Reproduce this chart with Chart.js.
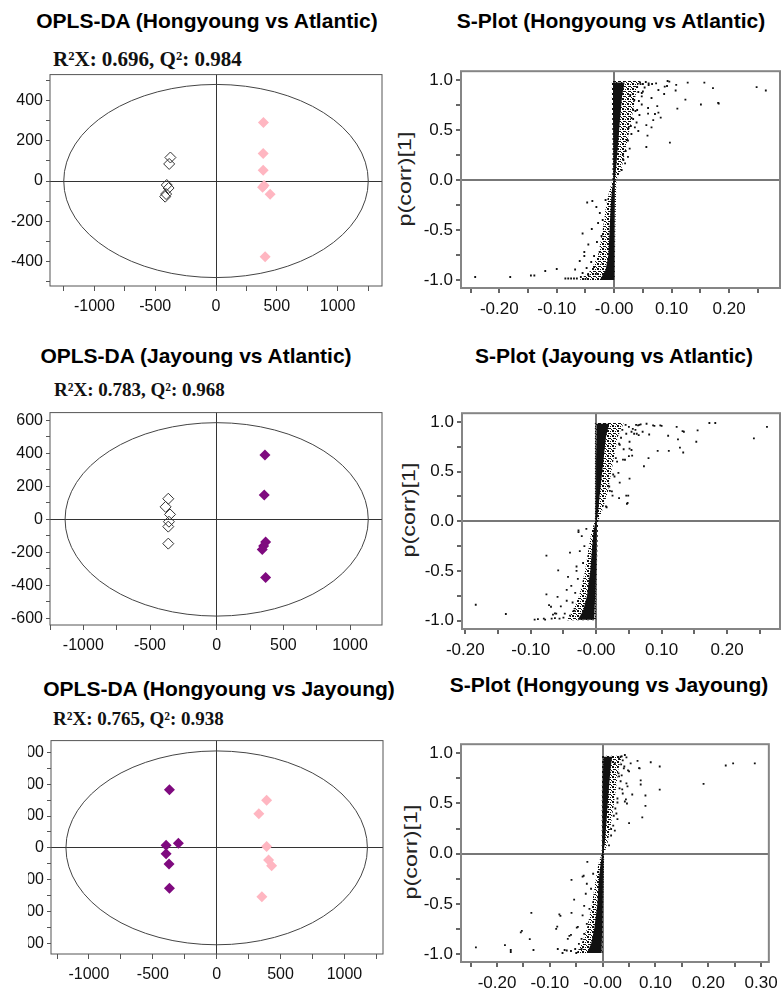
<!DOCTYPE html>
<html lang="en">
<head>
<meta charset="UTF-8">
<title>OPLS-DA / S-Plot</title>
<script src="https://cdn.jsdelivr.net/npm/chart.js@4.4.1/dist/chart.umd.min.js"></script>
<style>
    body { margin: 0; width: 784px; height: 992px; position: relative; overflow: hidden; background: #fff; }
    canvas { position: absolute; }
    .t { position: absolute; width: 420px; height: 24px; line-height: 24px; text-align: center; white-space: nowrap;
         font: bold 21px "Liberation Sans", Arial, sans-serif; color: #000; }
    .s { position: absolute; height: 22px; line-height: 22px; white-space: nowrap;
         font: bold 19px "Liberation Serif", "Times New Roman", serif; color: #111; }
    .yl { position: absolute; white-space: nowrap; font: 18px "Liberation Sans", Arial, sans-serif; color: #222;
          transform: translate(-50%, -50%) rotate(-90deg) scaleX(1.3); }
</style>
</head>
<body>
<div class="t" style="left:-3px;top:9px">OPLS-DA (Hongyoung vs Atlantic)</div>
<div class="t" style="left:401px;top:9px">S-Plot (Hongyoung vs Atlantic)</div>
<div class="t" style="left:-14px;top:344px">OPLS-DA (Jayoung vs Atlantic)</div>
<div class="t" style="left:404px;top:344px">S-Plot (Jayoung vs Atlantic)</div>
<div class="t" style="left:9px;top:677px">OPLS-DA (Hongyoung vs Jayoung)</div>
<div class="t" style="left:399px;top:673px">S-Plot (Hongyoung vs Jayoung)</div>
<div class="s" style="left:53px;top:47px;font-size:21px">R²X: 0.696, Q²: 0.984</div>
<div class="s" style="left:54px;top:379px">R²X: 0.783, Q²: 0.968</div>
<div class="s" style="left:53px;top:708px">R²X: 0.765, Q²: 0.938</div>
<div class="yl" style="left:405px;top:179px">p(corr)[1]</div>
<div class="yl" style="left:409px;top:510px">p(corr)[1]</div>
<div class="yl" style="left:411px;top:852px">p(corr)[1]</div>

<canvas id="c1" width="392" height="258" style="left:0;top:62px"></canvas>
<canvas id="c2" width="392" height="262" style="left:392px;top:58px"></canvas>
<canvas id="c3" width="392" height="262" style="left:0;top:400px"></canvas>
<canvas id="c4" width="392" height="262" style="left:392px;top:400px"></canvas>
<canvas id="c5" width="364" height="264" style="left:28px;top:728px"></canvas>
<canvas id="c6" width="392" height="261" style="left:392px;top:731px"></canvas>

<script>
    // OPLS-DA score plots: [t1, to1]
    const opls1Atlantic = [[-375, 117], [-385, 85], [-405, -20], [-390, -35], [-410, -65], [-418, -78]];
    const opls1Hongyoung = [[390, 291], [388, 137], [388, 54], [383, -31], [395, -22], [445, -66], [404, -377]];
    const opls2Atlantic = [[-363, 125], [-383, 76], [-350, 30], [-358, -14], [-363, -44], [-363, -147]];
    const opls2Jayoung = [[362, 390], [357, 147], [367, -137], [352, -162], [342, -183], [367, -352]];
    const opls3Jayoung = [[-370, 365], [-396, 17], [-300, 29], [-396, -37], [-373, -101], [-370, -254]];
    const opls3Hongyoung = [[391, 300], [330, 215], [391, 9], [406, -76], [430, -113], [354, -307]];

    // Hotelling ellipse half axes
    const ellipse1 = [1252, 481];
    const ellipse2 = [1137, 586];
    const ellipse3 = [1180, 610];

    // S-plots: outline of the dense cloud (halo), its solid core, and the scattered variables [p[1], p(corr)[1]]
    const splot1Halo = [[-0.060, -1.00], [-0.040, -0.90], [-0.028, -0.75], [-0.020, -0.50], [-0.014, -0.25], [-0.008, -0.10],
        [-0.003, 0.00], [-0.003, 0.40], [-0.004, 0.80], [-0.004, 0.99], [0.045, 0.99], [0.040, 0.93], [0.036, 0.80],
        [0.030, 0.60], [0.020, 0.30], [0.012, 0.10], [0.004, 0.00], [0.002, -0.50], [0.001, -1.00]];
    const splot1Core = [[-0.025, -1.00], [-0.015, -0.90], [-0.010, -0.75], [-0.008, -0.50], [-0.006, -0.25], [-0.004, -0.10],
        [-0.001, 0.00], [-0.001, 0.30], [-0.002, 0.60], [-0.002, 0.85], [-0.002, 0.975], [0.018, 0.975], [0.014, 0.85],
        [0.010, 0.60], [0.006, 0.30], [0.003, 0.10], [0.001, 0.00], [0.000, -0.50], [0.000, -1.00]];
    const splot1Points = [
        [-0.242, -0.97], [-0.181, -0.97], [-0.145, -0.955], [-0.139, -0.955], [-0.120, -0.91], [-0.100, -0.89],
        [-0.085, -0.985], [-0.080, -0.985], [-0.075, -0.985], [-0.070, -0.985], [-0.065, -0.985], [-0.068, -0.895],
        [-0.060, -0.81], [-0.052, -0.76], [-0.055, -0.535], [-0.045, -0.645], [-0.047, -0.225], [-0.038, -0.21],
        [-0.031, -0.27], [-0.039, -0.49], [-0.052, -0.72], [-0.035, -0.76], [-0.025, -0.33], [-0.028, -0.43],
        [-0.022, -0.56], [-0.030, -0.62], [-0.040, -0.82], [-0.048, -0.88], [-0.055, -0.93], [-0.045, -0.95],
        [-0.035, -0.87], [-0.025, -0.72], [-0.020, -0.40], [-0.015, -0.20], [-0.058, -0.97], [-0.050, -0.99],
        [-0.032, -0.94], [-0.020, -0.84],
        [0.248, 0.928], [0.264, 0.895], [0.157, 0.974], [0.172, 0.918], [0.128, 0.974], [0.181, 0.771], [0.182, 0.765],
        [0.151, 0.755], [0.124, 0.804], [0.110, 0.713], [0.107, 0.895], [0.097, 0.373], [0.056, 0.33], [0.096, 0.983],
        [0.088, 0.934], [0.092, 0.94], [0.087, 0.86], [0.081, 0.624], [0.077, 0.673], [0.075, 0.738], [0.068, 0.598],
        [0.059, 0.664], [0.059, 0.72], [0.056, 0.549], [0.065, 0.82], [0.060, 0.967], [0.073, 0.967], [0.066, 0.96],
        [0.050, 0.885], [0.048, 0.836], [0.048, 0.755], [0.039, 0.575], [0.036, 0.526], [0.030, 0.46], [0.027, 0.314],
        [0.024, 0.232], [0.019, 0.167], [0.013, 0.10], [0.044, 0.65], [0.040, 0.70], [0.045, 0.975], [0.050, 0.96],
        [0.055, 0.98], [0.040, 0.93], [0.035, 0.80], [0.030, 0.62], [0.025, 0.52], [0.022, 0.40], [0.042, 0.88],
        [0.033, 0.70], [0.028, 0.85], [0.015, 0.25], [0.048, 0.87], [0.071, 0.66], [0.108, 0.951], [0.093, 0.99],
        [0.077, 0.90], [0.060, 0.95], [0.053, 0.925], [0.046, 0.958], [0.043, 0.79], [0.037, 0.69], [0.033, 0.61],
        [0.029, 0.54], [0.024, 0.395], [0.020, 0.29], [0.016, 0.20], [0.065, 0.526], [0.058, 0.444], [0.042, 0.49]];

    const splot2Halo = [[-0.045, -0.995], [-0.036, -0.90], [-0.026, -0.75], [-0.017, -0.50], [-0.011, -0.25], [-0.007, -0.10],
        [-0.002, 0.00], [-0.002, 0.40], [-0.002, 0.99], [0.042, 0.99], [0.038, 0.92], [0.033, 0.85], [0.026, 0.60],
        [0.018, 0.30], [0.009, 0.10], [0.003, 0.00], [0.001, -0.50], [0.000, -0.995]];
    const splot2Core = [[-0.028, -0.99], [-0.020, -0.90], [-0.014, -0.75], [-0.009, -0.50], [-0.006, -0.25], [-0.004, -0.10],
        [-0.001, 0.00], [0.000, 0.30], [0.000, 0.60], [0.001, 0.85], [0.001, 0.98], [0.020, 0.98], [0.015, 0.85],
        [0.011, 0.60], [0.006, 0.30], [0.003, 0.10], [0.001, 0.00], [0.000, -0.50], [-0.003, -0.99]];
    const splot2Points = [
        [0.261, 0.949], [0.241, 0.833], [0.173, 0.988], [0.182, 0.988], [0.155, 0.915], [0.153, 0.80], [0.132, 0.907],
        [0.134, 0.90], [0.123, 0.949], [0.125, 0.823], [0.128, 0.741], [0.133, 0.692], [0.111, 0.708], [0.110, 0.86],
        [0.098, 0.965], [0.100, 0.96], [0.094, 0.708], [0.080, 0.635], [0.073, 0.553], [0.081, 0.873], [0.087, 0.965],
        [0.089, 0.96], [0.077, 0.981], [0.065, 0.866], [0.066, 0.97], [0.061, 0.97], [0.068, 0.975], [0.051, 0.428],
        [0.048, 0.184], [0.046, 0.257], [0.035, 0.233], [0.025, 0.257], [0.050, 0.655], [0.055, 0.66], [0.042, 0.724],
        [0.051, 0.73], [0.041, 0.62], [0.058, 0.88], [0.054, 0.90], [0.060, 0.92], [0.054, 0.717], [0.044, 0.619],
        [0.034, 0.487], [0.036, 0.388], [0.024, 0.30], [0.049, 0.257], [0.047, 0.174], [0.062, 0.88], [0.045, 0.97],
        [0.050, 0.95], [0.038, 0.84], [0.032, 0.60], [0.028, 0.45], [0.020, 0.35], [0.015, 0.15], [0.040, 0.92],
        [0.035, 0.78], [0.064, 0.965], [0.056, 0.93], [0.046, 0.88], [0.036, 0.77], [0.030, 0.635], [0.026, 0.47],
        [0.021, 0.306], [0.016, 0.141], [0.051, 0.80], [0.071, 0.90],
        [-0.184, -0.84], [-0.138, -0.933], [-0.076, -0.346], [-0.076, -0.735], [-0.058, -0.494], [-0.040, -0.316],
        [-0.027, -0.093], [-0.027, -0.11], [-0.015, -0.076], [-0.059, -0.761], [-0.072, -0.844], [-0.069, -0.86],
        [-0.054, -0.857], [-0.063, -0.926], [-0.066, -0.94], [-0.061, -0.93], [-0.094, -0.99], [-0.089, -0.985],
        [-0.080, -0.98], [-0.078, -0.99], [-0.068, -0.98], [-0.063, -0.975], [-0.056, -0.98], [-0.045, -0.69],
        [-0.043, -0.56], [-0.036, -0.817], [-0.030, -0.455], [-0.030, -0.50], [-0.025, -0.30], [-0.022, -0.15],
        [-0.033, -0.90], [-0.048, -0.93], [-0.050, -0.97], [-0.038, -0.65], [-0.032, -0.72], [-0.028, -0.58],
        [-0.020, -0.42], [-0.018, -0.25], [-0.040, -0.95], [-0.045, -0.80]];

    const splot3Halo = [[-0.050, -0.995], [-0.040, -0.90], [-0.030, -0.75], [-0.020, -0.50], [-0.013, -0.25], [-0.008, -0.10],
        [-0.002, 0.00], [-0.002, 0.40], [-0.001, 0.975], [0.036, 0.975], [0.033, 0.90], [0.030, 0.85], [0.024, 0.60],
        [0.016, 0.30], [0.009, 0.10], [0.003, 0.00], [0.001, -0.50], [0.000, -0.995]];
    const splot3Core = [[-0.030, -0.99], [-0.022, -0.90], [-0.016, -0.75], [-0.010, -0.50], [-0.007, -0.25], [-0.004, -0.10],
        [-0.001, 0.00], [0.000, 0.30], [0.000, 0.60], [0.001, 0.85], [0.002, 0.965], [0.018, 0.965], [0.015, 0.85],
        [0.011, 0.60], [0.007, 0.30], [0.004, 0.10], [0.001, 0.00], [0.000, -0.50], [-0.002, -0.99]];
    const splot3Points = [
        [0.288, 0.90], [0.247, 0.90], [0.233, 0.879], [0.191, 0.695], [0.108, 0.869], [0.108, 0.639], [0.091, 0.911],
        [0.069, 0.853], [0.070, 0.85], [0.066, 0.925], [0.072, 0.731], [0.072, 0.689], [0.081, 0.58], [0.081, 0.476],
        [0.075, 0.361], [0.050, 0.305], [0.050, 0.82], [0.048, 0.83], [0.042, 0.983], [0.045, 0.96], [0.034, 0.722],
        [0.044, 0.541], [0.042, 0.52], [0.046, 0.50], [0.028, 0.344], [0.023, 0.23], [0.016, 0.181], [0.012, 0.083],
        [0.038, 0.93], [0.035, 0.89], [0.030, 0.80], [0.032, 0.65], [0.028, 0.55], [0.024, 0.45], [0.040, 0.85],
        [0.036, 0.78], [0.026, 0.40], [0.020, 0.28], [0.045, 0.70], [0.038, 0.60], [0.031, 0.95], [0.036, 0.97],
        [0.034, 0.967], [0.023, 0.90], [0.041, 0.869], [0.053, 0.90], [0.031, 0.77], [0.037, 0.64], [0.028, 0.51],
        [0.021, 0.378], [0.016, 0.246], [0.047, 0.67], [0.056, 0.59],
        [-0.240, -0.934], [-0.185, -0.911], [-0.174, -0.96], [-0.174, -0.98], [-0.155, -0.785], [-0.153, -0.77],
        [-0.138, -0.852], [-0.135, -0.59], [-0.131, -0.96], [-0.088, -0.75], [-0.086, -0.728], [-0.082, -0.606],
        [-0.080, -0.62], [-0.085, -0.95], [-0.076, -0.99], [-0.072, -0.96], [-0.068, -0.965], [-0.060, -0.97],
        [-0.059, -0.262], [-0.059, -0.59], [-0.054, -0.458], [-0.063, -0.82], [-0.060, -0.81], [-0.038, -0.229],
        [-0.036, -0.22], [-0.029, -0.082], [-0.038, -0.615], [-0.049, -0.737], [-0.047, -0.73], [-0.066, -0.85],
        [-0.030, -0.30], [-0.032, -0.40], [-0.035, -0.52], [-0.040, -0.85], [-0.045, -0.90], [-0.052, -0.95],
        [-0.030, -0.70], [-0.025, -0.55], [-0.022, -0.35], [-0.018, -0.20], [-0.035, -0.80], [-0.040, -0.95],
        [-0.050, -0.99]];

    const pink = '#ffb6c1';
    const purple = '#7f0a7f';

    Chart.defaults.font.family = '"Liberation Sans", Arial, sans-serif';
    Chart.defaults.color = '#111';

    const boxPlugin = {
        id: 'box',
        afterDraw(chart, args, opts) {
            const a = chart.chartArea, c = chart.ctx;
            c.save();
            c.strokeStyle = opts.color;
            c.lineWidth = opts.width;
            c.strokeRect(a.left, a.top, a.right - a.left, a.bottom - a.top);
            c.restore();
        }
    };

    const ellipsePlugin = {
        id: 'ellipse',
        beforeDatasetsDraw(chart, args, opts) {
            if (!opts.axes) return;
            const x = chart.scales.x, y = chart.scales.y, c = chart.ctx;
            const cx = x.getPixelForValue(0), cy = y.getPixelForValue(0);
            c.save();
            c.strokeStyle = '#444';
            c.lineWidth = 1;
            c.beginPath();
            c.ellipse(cx, cy, x.getPixelForValue(opts.axes[0]) - cx, cy - y.getPixelForValue(opts.axes[1]), 0, 0, Math.PI * 2);
            c.stroke();
            c.restore();
        }
    };

    // small stipple tile so the fringe of the cloud reads as dots, not grey
    const tile = document.createElement('canvas');
    tile.width = 5;
    tile.height = 5;
    const tctx = tile.getContext('2d');
    tctx.fillStyle = '#111';
    [[0, 0, 2, 2], [3, 1, 1, 1], [1, 3, 2, 1], [4, 4, 1, 1], [3, 3, 1, 1]].forEach(r => tctx.fillRect(r[0], r[1], r[2], r[3]));

    // dense part of the S-plot cloud, drawn as two polygons on the chart scales
    const bandPlugin = {
        id: 'band',
        beforeDatasetsDraw(chart, args, opts) {
            const x = chart.scales.x, y = chart.scales.y, c = chart.ctx;
            const poly = (pts, style) => {
                c.fillStyle = style;
                c.beginPath();
                pts.forEach((p, i) => {
                    const px = x.getPixelForValue(p[0]), py = y.getPixelForValue(p[1]);
                    if (i === 0) c.moveTo(px, py); else c.lineTo(px, py);
                });
                c.closePath();
                c.fill();
            };
            c.save();
            if (opts.halo) poly(opts.halo, c.createPattern(tile, 'repeat'));
            if (opts.core) poly(opts.core, '#111');
            c.restore();
        }
    };

    function stepTicks(scale, step) {
        const ticks = [];
        for (let k = Math.ceil(scale.min / step - 1e-9); k * step <= scale.max + 1e-9; k++) {
            ticks.push({value: Math.round(k * step * 1000) / 1000});
        }
        scale.ticks = ticks;
    }

    function zeroLine(color) {
        return ctx => (ctx.tick && ctx.tick.value === 0) ? color : 'rgba(0,0,0,0)';
    }

    function opls(id, xr, yr, axes, groups, lay) {
        new Chart(document.getElementById(id), {
            type: 'scatter',
            data: {
                datasets: groups.map(g => ({
                    data: g.pts.map(p => ({x: p[0], y: p[1]})),
                    pointStyle: 'rectRot',
                    pointRadius: 5.5,
                    pointHoverRadius: 5.5,
                    backgroundColor: g.fill,
                    borderColor: g.line,
                    borderWidth: g.bw
                }))
            },
            options: {
                responsive: false,
                animation: false,
                devicePixelRatio: 1,
                layout: {padding: {top: lay.top, right: lay.right, left: 0, bottom: 0}},
                plugins: {
                    legend: {display: false},
                    tooltip: {enabled: false},
                    box: {color: '#555', width: 1},
                    ellipse: {axes: axes}
                },
                scales: {
                    x: {
                        type: 'linear', min: xr[0], max: xr[1],
                        border: {display: false},
                        grid: {color: zeroLine('#333'), lineWidth: 1, tickColor: '#555', tickLength: 5},
                        ticks: {autoSkip: false, maxRotation: 0, padding: 6, font: {size: 16},
                            callback: v => v % 500 === 0 ? String(v) : ''},
                        afterBuildTicks: s => stepTicks(s, 250),
                        afterFit: s => { s.height = lay.xh; }
                    },
                    y: {
                        type: 'linear', min: yr[0], max: yr[1],
                        border: {display: false},
                        grid: {color: zeroLine('#333'), lineWidth: 1, tickColor: '#555', tickLength: 4},
                        ticks: {autoSkip: false, padding: 3, font: {size: 16},
                            callback: v => v % 200 === 0 ? String(v) : ''},
                        afterBuildTicks: s => stepTicks(s, 100),
                        afterFit: s => { s.width = lay.yw; }
                    }
                }
            },
            plugins: [boxPlugin, ellipsePlugin]
        });
    }

    function splot(id, xr, yr, halo, core, pts, lay) {
        new Chart(document.getElementById(id), {
            type: 'scatter',
            data: {
                datasets: [{
                    data: pts.map(p => ({x: p[0], y: p[1]})),
                    pointStyle: 'rect',
                    pointRadius: 1.3,
                    pointHoverRadius: 1.3,
                    backgroundColor: '#111',
                    borderWidth: 0
                }]
            },
            options: {
                responsive: false,
                animation: false,
                devicePixelRatio: 1,
                layout: {padding: {top: lay.top, right: lay.right, left: 0, bottom: 0}},
                plugins: {
                    legend: {display: false},
                    tooltip: {enabled: false},
                    box: {color: '#858585', width: 2},
                    band: {halo: halo, core: core}
                },
                scales: {
                    x: {
                        type: 'linear', min: xr[0], max: xr[1],
                        border: {display: false},
                        grid: {color: zeroLine('#777'), lineWidth: 2, tickColor: '#666', tickLength: 5},
                        ticks: {autoSkip: false, maxRotation: 0, padding: 6, font: {size: 17},
                            callback: v => Math.round(v * 100) % 10 === 0 ? (v === 0 ? '-0.00' : v.toFixed(2)) : ''},
                        afterBuildTicks: s => stepTicks(s, 0.05),
                        afterFit: s => { s.height = lay.xh; }
                    },
                    y: {
                        type: 'linear', min: yr[0], max: yr[1],
                        border: {display: false},
                        grid: {color: zeroLine('#777'), lineWidth: 2, tickColor: '#666', tickLength: 5},
                        ticks: {autoSkip: false, padding: 3, font: {size: 17},
                            callback: v => Math.round(v * 100) % 50 === 0 ? v.toFixed(1) : ''},
                        afterBuildTicks: s => stepTicks(s, 0.25),
                        afterFit: s => { s.width = lay.yw; }
                    }
                }
            },
            plugins: [boxPlugin, bandPlugin]
        });
    }

    opls('c1', [-1365, 1365], [-523, 530], ellipse1, [
        {pts: opls1Atlantic, fill: 'rgba(0,0,0,0)', line: '#333', bw: 1},
        {pts: opls1Hongyoung, fill: pink, line: pink, bw: 0}
    ], {top: 8, right: 10, xh: 34, yw: 50});

    opls('c3', [-1250, 1240], [-640, 647], ellipse2, [
        {pts: opls2Atlantic, fill: 'rgba(0,0,0,0)', line: '#333', bw: 1},
        {pts: opls2Jayoung, fill: purple, line: purple, bw: 0}
    ], {top: 9, right: 10, xh: 37, yw: 50});

    opls('c5', [-1297, 1302], [-668, 675], ellipse3, [
        {pts: opls3Jayoung, fill: purple, line: purple, bw: 0},
        {pts: opls3Hongyoung, fill: pink, line: pink, bw: 0}
    ], {top: 9, right: 9, xh: 38, yw: 23});

    splot('c2', [-0.2667, 0.2887], [-1.08, 1.088], splot1Halo, splot1Core, splot1Points, {top: 10, right: 4, xh: 32, yw: 69});
    splot('c4', [-0.205, 0.2809], [-1.084, 1.087], splot2Halo, splot2Core, splot2Points, {top: 9, right: 4, xh: 33, yw: 70});
    splot('c6', [-0.2682, 0.3146], [-1.08, 1.091], splot3Halo, splot3Core, splot3Points, {top: 10, right: 13, xh: 30, yw: 69});
</script>
</body>
</html>
